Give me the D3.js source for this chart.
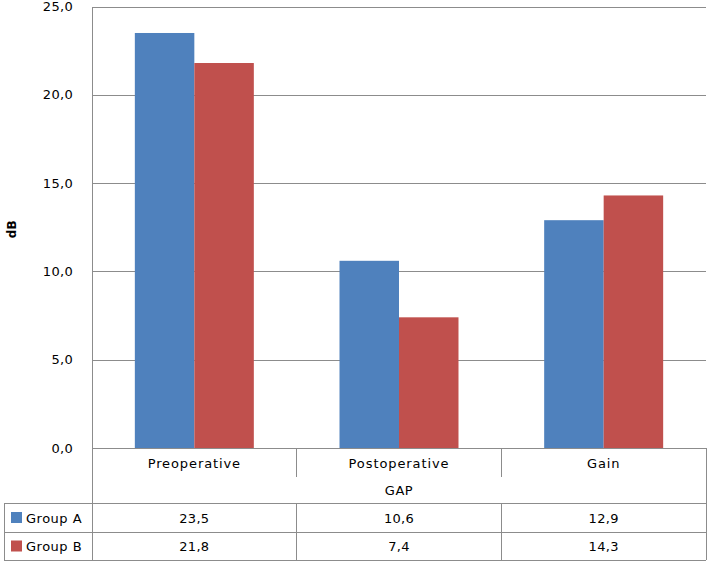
<!DOCTYPE html>
<html>
<head>
<meta charset="utf-8">
<script src="https://cdn.jsdelivr.net/npm/d3@7"></script>
<style>
  body { margin: 0; background: #fff; }
  text { font-family: "DejaVu Sans", Verdana, sans-serif; fill: #000; }
</style>
</head>
<body>
<svg id="chart"></svg>
<script>
const categories = ["Preoperative", "Postoperative", "Gain"];
const groups = ["Group A", "Group B"];
const groupA = [23.5, 10.6, 12.9];
const groupB = [21.8, 7.4, 14.3];
const yTicks = [0, 5, 10, 15, 20, 25];
const colors = ["#4F81BD", "#C0504D"];

const width = 709;
const height = 564;
const plot = { left: 92, right: 706, top: 6.5, bottom: 448 };
const rows = { cat: 477, gap: 503, a: 532, b: 560 };
const tableLeft = 4;
const lineColor = "#8c8c8c";
const fmt = v => d3.format(".1f")(v).replace(".", ",");

const series = [groupA, groupB];

const svg = d3.select("#chart")
    .attr("width", width)
    .attr("height", height);

const x0 = d3.scaleBand()
    .domain(categories)
    .range([plot.left, plot.right]);

const x1 = d3.scaleBand()
    .domain(groups)
    .range([0, x0.bandwidth()])
    .paddingInner(0)
    .paddingOuter(0.72);

const y = d3.scaleLinear()
    .domain([0, 25])
    .range([plot.bottom, plot.top]);

// gridlines
svg.append("g")
    .selectAll("line")
    .data(yTicks)
    .enter()
    .append("line")
    .attr("x1", plot.left)
    .attr("x2", plot.right)
    .attr("y1", d => Math.round(y(d)) + 0.5)
    .attr("y2", d => Math.round(y(d)) + 0.5)
    .attr("stroke", lineColor)
    .attr("stroke-width", 1);

// y axis labels
const yAxis = svg.append("g")
    .attr("transform", `translate(${plot.left}, 0)`)
    .call(d3.axisLeft(y).tickValues(yTicks).tickFormat(fmt).tickSize(0).tickPadding(19));
yAxis.select(".domain").remove();
yAxis.selectAll("text")
    .style("font-family", "DejaVu Sans, Verdana, sans-serif")
    .style("font-size", "13px")
    .style("letter-spacing", "0.3px")
    .attr("fill", "#000");

svg.append("text")
    .attr("transform", `translate(16, ${(plot.top + plot.bottom) / 2 + 2}) rotate(-90)`)
    .attr("text-anchor", "middle")
    .style("font-size", "12px")
    .style("font-weight", "bold")
    .text("dB");

// bars
const barGroups = svg.append("g")
    .selectAll("g")
    .data(series)
    .enter()
    .append("g")
    .attr("fill", (d, i) => colors[i]);

barGroups.selectAll("rect")
    .data((d, i) => d.map((v, j) => ({ cat: categories[j], group: groups[i], value: v })))
    .enter()
    .append("rect")
    .attr("x", d => x0(d.cat) + x1(d.group))
    .attr("y", d => y(d.value))
    .attr("width", x1.bandwidth())
    .attr("height", d => y(0) - y(d.value));

// data table
const table = svg.append("g")
    .attr("stroke", lineColor)
    .attr("stroke-width", 1)
    .attr("shape-rendering", "crispEdges");

// left axis line through the table
table.append("line")
    .attr("x1", plot.left).attr("x2", plot.left)
    .attr("y1", plot.top).attr("y2", rows.b);
// right border of table
table.append("line")
    .attr("x1", plot.right).attr("x2", plot.right)
    .attr("y1", plot.bottom).attr("y2", rows.b);
// left border of legend cells
table.append("line")
    .attr("x1", tableLeft).attr("x2", tableLeft)
    .attr("y1", rows.gap).attr("y2", rows.b);

// horizontal table rules
table.selectAll("line.h")
    .data([rows.gap, rows.a, rows.b])
    .enter()
    .append("line")
    .attr("class", "h")
    .attr("x1", tableLeft)
    .attr("x2", plot.right)
    .attr("y1", d => d)
    .attr("y2", d => d);

// category dividers
const dividers = categories.slice(1).map(c => x0(c));
table.selectAll("line.v1")
    .data(dividers)
    .enter()
    .append("line")
    .attr("x1", d => d).attr("x2", d => d)
    .attr("y1", plot.bottom).attr("y2", rows.cat);
table.selectAll("line.v2")
    .data(dividers)
    .enter()
    .append("line")
    .attr("x1", d => d).attr("x2", d => d)
    .attr("y1", rows.gap).attr("y2", rows.b);

// category labels
svg.append("g")
    .selectAll("text")
    .data(categories)
    .enter()
    .append("text")
    .attr("x", d => x0(d) + x0.bandwidth() / 2)
    .attr("y", (plot.bottom + rows.cat) / 2 + 5)
    .attr("text-anchor", "middle")
    .style("font-size", "13px")
    .style("letter-spacing", "0.9px")
    .text(d => d);

svg.append("text")
    .attr("x", (plot.left + plot.right) / 2)
    .attr("y", (rows.cat + rows.gap) / 2 + 5)
    .attr("text-anchor", "middle")
    .style("font-size", "13px")
    .style("letter-spacing", "0.5px")
    .text("GAP");

// value rows with legend keys
const rowTops = [rows.gap, rows.a];
const rowBottoms = [rows.a, rows.b];

groups.forEach((g, i) => {
    const cy = (rowTops[i] + rowBottoms[i]) / 2;
    svg.append("rect")
        .attr("x", 11)
        .attr("y", cy - 5.5)
        .attr("width", 11)
        .attr("height", 11)
        .attr("fill", colors[i]);
    svg.append("text")
        .attr("x", 26)
        .attr("y", cy + 5)
        .style("font-size", "13px")
        .style("letter-spacing", "0.5px")
        .text(g);
    svg.append("g")
        .selectAll("text")
        .data(series[i])
        .enter()
        .append("text")
        .attr("x", (d, j) => x0(categories[j]) + x0.bandwidth() / 2)
        .attr("y", cy + 5)
        .attr("text-anchor", "middle")
        .style("font-size", "13px")
        .style("letter-spacing", "0.3px")
        .text(d => fmt(d));
});
</script>
</body>
</html>
